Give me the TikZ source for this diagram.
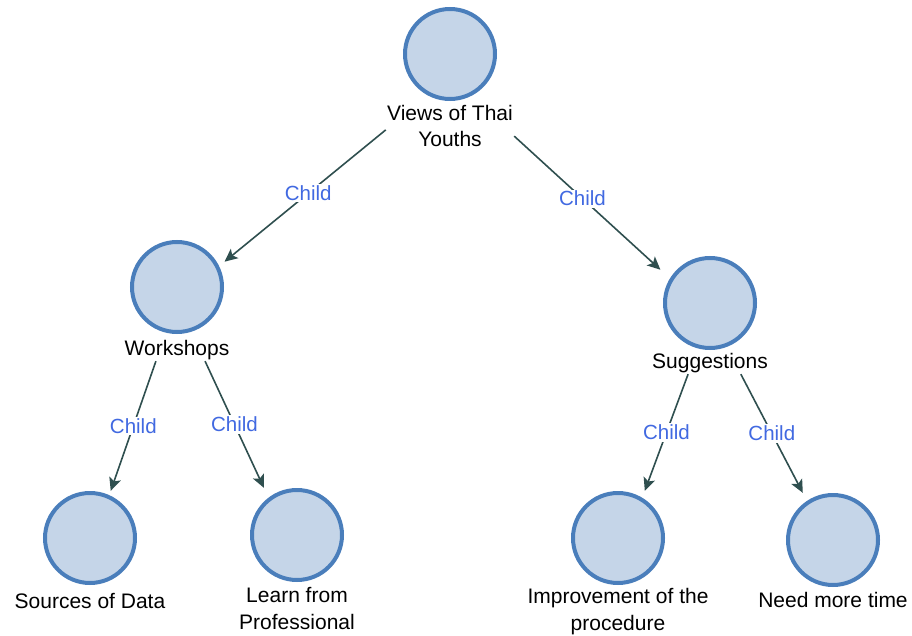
\documentclass[tikz,border=0pt]{standalone}
\usepackage{fontspec}
\setmainfont{Liberation Sans}
\usetikzlibrary{arrows.meta,fit}
\definecolor{circfill}{HTML}{C5D5E8}
\definecolor{circline}{HTML}{4A7EBB}
\definecolor{edgecol}{HTML}{2F4F4F}
\definecolor{childcol}{HTML}{4169E1}

\begin{document}
\begin{tikzpicture}[x=1pt, y=-1pt,
    concept/.style={circle, draw=circline, fill=circfill, line width=4pt, minimum size=90pt, inner sep=0pt},
    caption/.style={align=center, inner sep=1pt, font=\fontsize{21}{26.5}\selectfont},
    group/.style={inner sep=0pt},
    childof/.style={-{Stealth[length=13pt,width=12pt,inset=3pt]}, draw=edgecol, line width=1.6pt},
    rel/.style={midway, fill=white, inner sep=1.5pt, text=childcol, font=\fontsize{20.5}{24}\selectfont}]
    \useasboundingbox (0,0) rectangle (912,636);

    % Root
    \node[concept] (root) at (450,54) {};
    \node[caption] (root-lbl) at (450,126) {Views of Thai\\Youths};
    \node[group, fit=(root)(root-lbl)] (root-box) {};

    % First level
    \node[concept] (work) at (177,287) {};
    \node[caption] (work-lbl) at (177,350) {Workshops};
    \node[group, fit=(work)(work-lbl)] (work-box) {};

    \node[concept] (sugg) at (710,303) {};
    \node[caption] (sugg-lbl) at (710,363) {Suggestions};
    \node[group, fit=(sugg)(sugg-lbl)] (sugg-box) {};

    % Second level
    \node[concept] (src) at (90,538) {};
    \node[caption] (src-lbl) at (90,601) {Sources of Data};
    \node[group, fit=(src)(src-lbl)] (src-box) {};

    \node[concept] (learn) at (297,535) {};
    \node[caption] (learn-lbl) at (297,608.5) {Learn from\\Professional};
    \node[group, fit=(learn)(learn-lbl)] (learn-box) {};

    \node[concept] (impr) at (618,538) {};
    \node[caption] (impr-lbl) at (618,611.5) {Improvement of the\\procedure};
    \node[group, fit=(impr)(impr-lbl)] (impr-box) {};

    \node[concept] (need) at (833,540) {};
    \node[caption] (need-lbl) at (833,600) {Need more time};
    \node[group, fit=(need)(need-lbl)] (need-box) {};

    % Child links
    \draw[childof, shorten >=-8pt] (root-box) -- (work-box) node[rel] {Child};
    \draw[childof, shorten >=-13pt] (root-box) -- (sugg-box) node[rel] {Child};
    \draw[childof] (work-box) -- (src-box) node[rel] {Child};
    \draw[childof] (work-box) -- (learn-box) node[rel] {Child};
    \draw[childof] (sugg-box) -- (impr-box) node[rel] {Child};
    \draw[childof] (sugg-box) -- (need-box) node[rel] {Child};
\end{tikzpicture}
\end{document}
